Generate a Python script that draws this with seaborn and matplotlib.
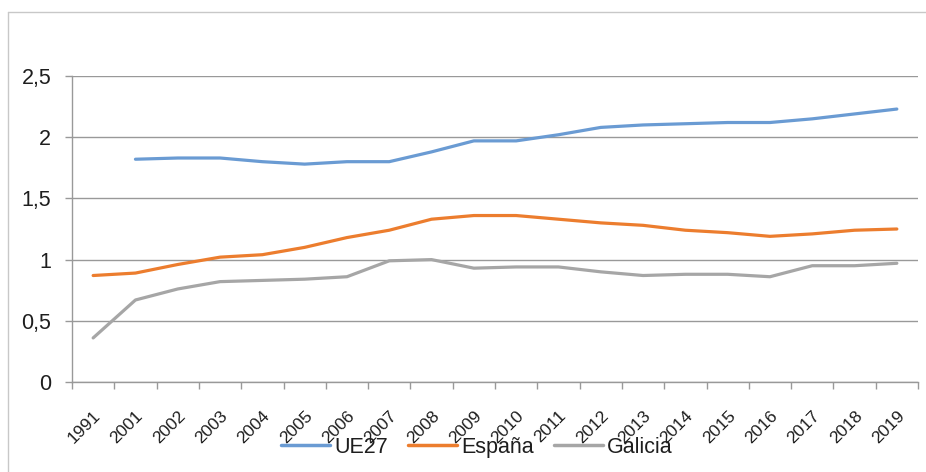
import matplotlib
matplotlib.use("Agg")
import matplotlib.pyplot as plt
import seaborn as sns
import pandas as pd
import numpy as np
from matplotlib.ticker import FuncFormatter, FixedLocator
from matplotlib.lines import Line2D

years = ["1991", "2001", "2002", "2003", "2004", "2005", "2006", "2007", "2008", "2009",
         "2010", "2011", "2012", "2013", "2014", "2015", "2016", "2017", "2018", "2019"]
ue27 = [np.nan, 1.82, 1.83, 1.83, 1.80, 1.78, 1.80, 1.80, 1.88, 1.97,
        1.97, 2.02, 2.08, 2.10, 2.11, 2.12, 2.12, 2.15, 2.19, 2.23]
espana = [0.87, 0.89, 0.96, 1.02, 1.04, 1.10, 1.18, 1.24, 1.33, 1.36,
          1.36, 1.33, 1.30, 1.28, 1.24, 1.22, 1.19, 1.21, 1.24, 1.25]
galicia = [0.36, 0.67, 0.76, 0.82, 0.83, 0.84, 0.86, 0.99, 1.00, 0.93,
           0.94, 0.94, 0.90, 0.87, 0.88, 0.88, 0.86, 0.95, 0.95, 0.97]
series_names = ["UE27", "España", "Galicia"]
colors = ["#6A9BD3", "#EC7D2E", "#A6A6A6"]

sns.set_theme(style="white")
plt.rcParams['font.family'] = ['Liberation Sans', 'DejaVu Sans']
txt = "#1e1e1e"

rows = []
for name, vals in zip(series_names, [ue27, espana, galicia]):
    for i, (y, v) in enumerate(zip(years, vals)):
        rows.append({"idx": i, "year": y, "serie": name, "valor": v})
df = pd.DataFrame(rows).dropna()

fig = plt.figure(figsize=(9.26, 4.72), dpi=100)
ax = fig.add_axes([72/926, 1-382/472, (918-72)/926, (382-76)/472])

sns.lineplot(data=df, x="idx", y="valor", hue="serie", hue_order=series_names,
             palette=colors, linewidth=2.3, ax=ax, legend=False)

ax.set_xlim(-0.5, len(years) - 0.5)
ax.set_ylim(0, 2.5)
ax.set_yticks([0, 0.5, 1, 1.5, 2, 2.5])
ax.yaxis.set_major_formatter(FuncFormatter(lambda v, p: ("%g" % v).replace(".", ",")))
ax.set_xticks(range(len(years)))
ax.set_xticklabels(years, rotation=45, ha="right", rotation_mode="anchor", fontsize=12.5, color=txt)
ax.xaxis.set_minor_locator(FixedLocator(np.arange(-0.5, len(years), 1.0)))
ax.tick_params(axis="x", which="major", length=0, pad=19)
ax.tick_params(axis="x", which="minor", length=5, width=1, color="#999999", bottom=True)
ax.tick_params(axis="y", length=5, width=1, color="#999999", left=True, labelsize=15.5,
               labelcolor=txt, pad=10)
ax.set_xlabel("")
ax.set_ylabel("")
ax.grid(axis="y", color="#999999", linewidth=1)
ax.set_axisbelow(True)
for s in ["top", "right"]:
    ax.spines[s].set_visible(False)
for s in ["left", "bottom"]:
    ax.spines[s].set_color("#999999")
    ax.spines[s].set_linewidth(1)

handles = [Line2D([0], [0], color=c, lw=2.5) for c in colors]
leg = fig.legend(handles, series_names, loc="center", bbox_to_anchor=(0.515, 0.052), ncol=3,
                 frameon=False, fontsize=15.5, handlelength=2.3, handletextpad=0.2,
                 columnspacing=0.9)
for t in leg.get_texts():
    t.set_color(txt)

fig.add_artist(Line2D([8/926, 8/926], [0, 1-12/472], transform=fig.transFigure, color="#c8c8c8", lw=1))
fig.add_artist(Line2D([8/926, 1], [1-12/472, 1-12/472], transform=fig.transFigure, color="#c8c8c8", lw=1))

fig.savefig("out.png", dpi=100)
